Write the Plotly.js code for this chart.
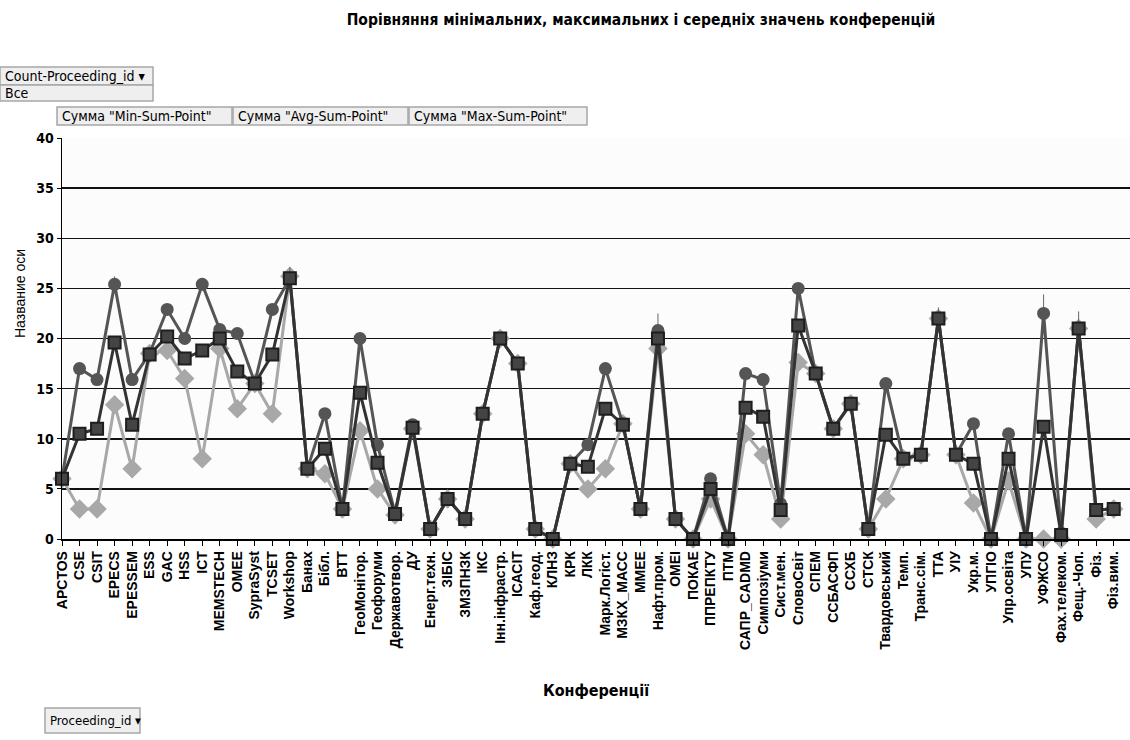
<!DOCTYPE html>
<html>
<head>
<meta charset="utf-8">
<script src="https://cdn.plot.ly/plotly-3.0.1.min.js"></script>
<style>html,body{margin:0;padding:0;background:#fff;}#chart{width:1130px;height:740px;}</style>
</head>
<body>
<div id="chart"></div>
<script>
const categories = ["APCTOS","CSE","CSIT","EPECS","EPESSEM","ESS","GAC","HSS","ICT","MEMSTECH","OMEE","SypraSyst","TCSET","Workshop","Банах","Бібл.","ВТТ","ГеоМонітор.","Геофоруми","Державотвор.","ДУ","Енерг.техн.","ЗІБІС","ЗМЗПНЗК","ІКС","Інн.інфрастр.","ІСАСІТ","Каф.геод.","КЛНЗ","КРК","ЛКК","Марк.Логіст.","МЗКХ_МАСС","ММЕЕ","Нафт.пром.","ОМЕІ","ПОКАЕ","ППРЕПКТУ","ПТМ","САПР_CADMD","Симпозіуми","Сист.мен.","СловоСвіт","СПЕМ","ССБАСФП","ССХБ","СТСК","Твардовський","Темп.","Транс.сім.","ТТА","УІУ","Укр.м.","УПГІО","Упр.освіта","УПУ","УФЖСО","Фах.телеком.","Фещ.-Чоп.","Фіз.","Фіз.вим."];

const minValues = [6,3,3,13.4,7,18.5,18.8,16,8,19,13,15.5,12.5,26.2,7,6.5,3,10.8,5,2.4,11,1,4,2,12.5,20,17.5,1,0,7.5,5,7,11.5,3,19,2,0,4,0,10.5,8.4,2,17.6,16.5,11,13.5,1,4,8,8.4,22,8.4,3.6,0,5.8,0,0,0,21,2,3];
const avgValues = [6,10.5,11,19.6,11.4,18.4,20.2,18,18.8,20,16.7,15.5,18.4,26,7,9,3,14.6,7.6,2.5,11.1,1,4,2,12.5,20,17.5,1,0,7.5,7.2,13,11.4,3,20,2,0,5,0,13.1,12.2,2.9,21.3,16.5,11,13.5,1,10.4,8,8.4,22,8.4,7.5,0,8,0,11.2,0.4,21,2.9,3];
const maxValues = [6,17,15.9,25.4,15.9,18.5,22.9,20,25.4,20.9,20.5,15.6,22.9,26,7,12.5,3,20,9.4,2.6,11.4,1,4,2,12.5,20,17.5,1,0,7.5,9.4,17,11.5,3,20.8,2,0,6,0,16.5,15.9,3.5,25,16.5,11,13.5,1,15.5,8,8.4,22,8.4,11.5,0,10.5,0,22.5,0.6,21,2.9,3];
const maxErrUp = [0,0,0,0.8,0,0,0,0,0,0,0,0,0,1.1,0,0,0,0,0,0,0,0,0,0,0,0,0,0,0,0,0,0,0,0,1.7,0,0,0,0,0,0,0,0,0,0,0,0,0,0,0,1.1,0,0,0,0,0,1.9,0,1.7,0,0];
const yTicks = [0,5,10,15,20,25,30,35,40];

const W = 1130, L = 62, R = 1130, T = 138, B = 539;
const px = x => (x - L) / (R - L);
const py = y => (B - y) / (B - T);
const narrow = "Liberation Sans Narrow, DejaVu Sans Condensed, DejaVu Sans, sans-serif";

const traces = [
  {x: categories, y: minValues, type: "scatter", mode: "lines+markers", name: 'Сумма "Min-Sum-Point"',
   line: {color: "#a8a8a8", width: 3}, marker: {symbol: "diamond", size: 15, color: "#a8a8a8"}, cliponaxis: false},
  {x: categories, y: maxValues, type: "scatter", mode: "lines+markers", name: 'Сумма "Max-Sum-Point"',
   line: {color: "#555555", width: 3}, marker: {symbol: "circle", size: 13, color: "#555555"}, cliponaxis: false,
   error_y: {type: "data", array: maxErrUp, arrayminus: maxErrUp.map(() => 0), symmetric: false, color: "#666", thickness: 1, width: 0}},
  {x: categories, y: avgValues, type: "scatter", mode: "lines+markers", name: 'Сумма "Avg-Sum-Point"',
   line: {color: "#333333", width: 3}, marker: {symbol: "square", size: 12, color: "#444444", line: {color: "#1e1e1e", width: 2}}, cliponaxis: false}
];

const boxes = [
  {x0: 0, x1: 153, y0: 67, y1: 85, t: "Count-Proceeding_id ▾", s: 14},
  {x0: 0, x1: 153, y0: 85, y1: 101, t: "Все", s: 14},
  {x0: 57, x1: 232, y0: 107, y1: 125, t: 'Сумма "Min-Sum-Point"', s: 14},
  {x0: 233, x1: 408, y0: 107, y1: 125, t: 'Сумма "Avg-Sum-Point"', s: 14},
  {x0: 409, x1: 587, y0: 107, y1: 125, t: 'Сумма "Max-Sum-Point"', s: 14},
  {x0: 45, x1: 140, y0: 708, y1: 733, t: "Proceeding_id ▾", s: 13}
];
const shapes = boxes.map(b => ({type: "rect", xref: "paper", yref: "paper",
  x0: px(b.x0), x1: px(b.x1), y0: py(b.y1), y1: py(b.y0),
  fillcolor: "#efefef", line: {color: "#a6a6a6", width: 1.5}, layer: "above"}));
const annotations = boxes.map(b => ({xref: "paper", yref: "paper", x: px(b.x0 + 3), y: py((b.y0 + b.y1) / 2),
  xanchor: "left", yanchor: "middle", showarrow: false, text: b.t,
  font: {family: narrow, size: b.s, color: "#000"}}));
annotations.push({xref: "paper", yref: "paper", x: px(20), y: py(294), xanchor: "center", yanchor: "middle",
  textangle: -90, showarrow: false, text: "Название оси",
  font: {family: "Liberation Sans, Arial, sans-serif", size: 14, color: "#000"}});

const layout = {
  width: W, height: 740,
  margin: {l: L, r: W - R, t: T, b: 740 - B},
  paper_bgcolor: "#ffffff", plot_bgcolor: "#fcfcfc",
  showlegend: false,
  title: {text: "Порівняння мінімальних, максимальних і середніх значень конференцій",
    x: 641 / W, xanchor: "center", y: 1 - 20 / 740, yanchor: "middle",
    font: {family: narrow, size: 15.5, color: "#000", weight: "bold"}},
  xaxis: {type: "category", range: [0, 60.93], tickangle: -90,
    tickfont: {family: "Liberation Sans, Arial, sans-serif", size: 14, color: "#000", weight: "bold"},
    ticks: "outside", ticklen: 5, tickcolor: "#000", showgrid: false,
    showline: true, linecolor: "#000", linewidth: 1.5, automargin: false,
    title: {text: "Конференції", standoff: 35, font: {family: narrow, size: 16, color: "#000", weight: "bold"}}},
  yaxis: {range: [0, 40], tickvals: yTicks, ticktext: yTicks.map(String),
    tickfont: {family: narrow, size: 14, color: "#000", weight: "bold"},
    ticks: "outside", ticklen: 4, tickcolor: "#000",
    showgrid: true, gridcolor: "#111", gridwidth: 1.5, zeroline: false,
    showline: true, linecolor: "#000", linewidth: 1.5, automargin: false},
  shapes: shapes,
  annotations: annotations
};

Plotly.newPlot("chart", traces, layout, {displayModeBar: false, staticPlot: true});
</script>
</body>
</html>
